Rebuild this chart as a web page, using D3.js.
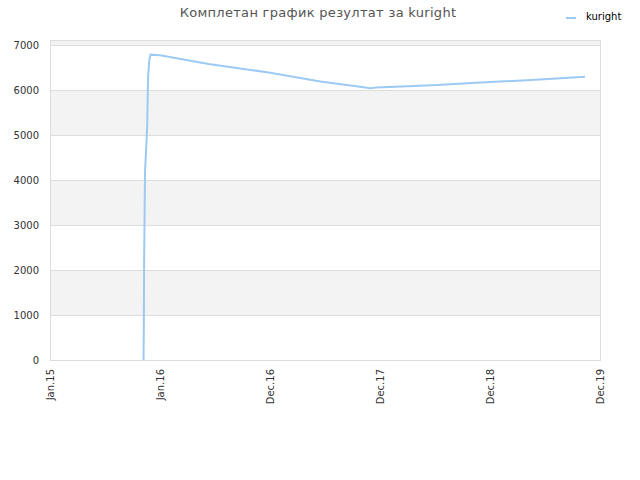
<!DOCTYPE html>
<html>
<head>
<meta charset="utf-8">
<script src="https://cdn.jsdelivr.net/npm/d3@7"></script>
<style>
  body { margin: 0; background: #fff; }
  text { font-family: "DejaVu Sans", sans-serif; }
</style>
</head>
<body>
<svg id="chart"></svg>
<script>
// データ
const seriesName = "kuright";
const dates = [
  "2015-11-02", "2015-11-03", "2015-11-04", "2015-11-07", "2015-11-11",
  "2015-11-14", "2015-11-17", "2015-11-21", "2015-11-25", "2015-12-26",
  "2016-06-01", "2016-12-19", "2017-06-01", "2017-10-20", "2017-11-10",
  "2017-12-01", "2018-06-01", "2018-12-06", "2019-06-01", "2019-10-12"
];
const values = [
  0, 667, 2185, 4200, 4740,
  5200, 6300, 6680, 6785, 6770,
  6580, 6385, 6190, 6060, 6040,
  6055, 6108, 6175, 6240, 6292
];
const tickDates = ["2015-01-01", "2015-12-26", "2016-12-19", "2017-12-13", "2018-12-06", "2019-11-30"];
const tickLabels = ["Jan.15", "Jan.16", "Dec.16", "Dec.17", "Dec.18", "Dec.19"];
const yTicks = [0, 1000, 2000, 3000, 4000, 5000, 6000, 7000];
const title = "Комплетан график резултат за kuright";

const width = 640, height = 480;
const margin = { top: 40, right: 40, bottom: 120, left: 50 };
const lineColor = "#9ccaf4";

const parse = d3.timeParse("%Y-%m-%d");
const data = dates.map((d, i) => ({ date: parse(d), value: values[i] }));

const svg = d3.select("#chart").attr("width", width).attr("height", height);

const x = d3.scaleTime()
  .domain([parse(tickDates[0]), parse(tickDates[tickDates.length - 1])])
  .range([margin.left, width - margin.right]);
const y = d3.scaleLinear()
  .domain([0, 7111])
  .range([height - margin.bottom, margin.top]);

// 背景の縞模様
const bands = [[1000, 2000], [3000, 4000], [5000, 6000], [7000, 7111]];
svg.append("g").selectAll("rect")
  .data(bands)
  .enter().append("rect")
  .attr("x", margin.left)
  .attr("width", width - margin.left - margin.right)
  .attr("y", d => y(d[1]))
  .attr("height", d => y(d[0]) - y(d[1]))
  .attr("fill", "#f3f3f3");

// グリッド線
svg.append("g").selectAll("line")
  .data(yTicks)
  .enter().append("line")
  .attr("x1", margin.left).attr("x2", width - margin.right)
  .attr("y1", d => y(d) + 0.5).attr("y2", d => y(d) + 0.5)
  .attr("stroke", "#dddddd");

// 枠線
svg.append("rect")
  .attr("x", margin.left + 0.5).attr("y", margin.top + 0.5)
  .attr("width", width - margin.left - margin.right)
  .attr("height", height - margin.top - margin.bottom)
  .attr("fill", "none").attr("stroke", "#dddddd");

// Y軸
const yAxis = svg.append("g")
  .attr("transform", `translate(${margin.left},0)`)
  .call(d3.axisLeft(y).tickValues(yTicks).tickFormat(d3.format("d")).tickSize(0).tickPadding(11));
yAxis.select(".domain").remove();
yAxis.selectAll("text").attr("font-size", 10).attr("fill", "#333");

// X軸
const xAxis = svg.append("g")
  .attr("transform", `translate(0,${height - margin.bottom})`)
  .call(d3.axisBottom(x)
    .tickValues(tickDates.map(parse))
    .tickFormat((d, i) => tickLabels[i])
    .tickSize(0));
xAxis.select(".domain").remove();
xAxis.selectAll("text")
  .attr("font-size", 10)
  .attr("fill", "#333")
  .attr("text-anchor", "end")
  .attr("transform", "rotate(-90)")
  .attr("x", -9)
  .attr("y", 0)
  .attr("dy", "0.35em");

// 折れ線
svg.append("path")
  .datum(data)
  .attr("fill", "none")
  .attr("stroke", lineColor)
  .attr("stroke-width", 2)
  .attr("d", d3.line().x(d => x(d.date)).y(d => y(d.value)));

// タイトル
svg.append("text")
  .attr("x", 318).attr("y", 17)
  .attr("text-anchor", "middle")
  .attr("font-size", 13)
  .attr("fill", "#555")
  .attr("letter-spacing", "0.3")
  .text(title);

// 凡例
svg.append("line")
  .attr("x1", 566).attr("x2", 576)
  .attr("y1", 18).attr("y2", 18)
  .attr("stroke", lineColor).attr("stroke-width", 2);
svg.append("text")
  .attr("x", 586).attr("y", 19.5)
  .attr("font-size", 10)
  .attr("fill", "#000")
  .text(seriesName);
</script>
</body>
</html>
